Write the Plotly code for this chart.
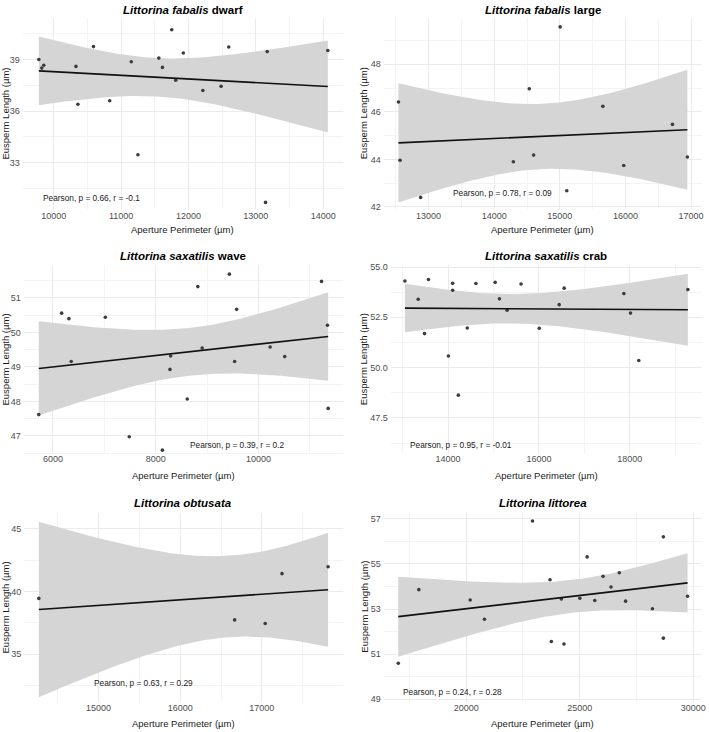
import numpy as np
import plotly.graph_objects as go

# ---------------- data ----------------
titles = [
    "<b><i>Littorina fabalis</i> dwarf</b>",
    "<b><i>Littorina fabalis</i> large</b>",
    "<b><i>Littorina saxatilis</i> wave</b>",
    "<b><i>Littorina saxatilis</i> crab</b>",
    "<b><i>Littorina obtusata</i></b>",
    "<b><i>Littorina littorea</i></b>",
]
pearson_labels = [
    "Pearson, p = 0.66, r = -0.1",
    "Pearson, p = 0.78, r = 0.09",
    "Pearson, p = 0.39, r = 0.2",
    "Pearson, p = 0.95, r = -0.01",
    "Pearson, p = 0.63, r = 0.29",
    "Pearson, p = 0.24, r = 0.28",
]

fd_perim = [9779, 9823, 9852, 10330, 10359, 10590, 10831, 11151, 11250, 11560,
            11614, 11752, 11811, 11924, 12214, 12485, 12598, 13144, 13169, 14069]
fd_len = [39.00, 38.50, 38.67, 38.60, 36.40, 39.75, 36.60, 38.87, 33.46, 39.08,
          38.54, 40.73, 37.80, 39.38, 37.20, 37.44, 39.73, 30.69, 39.46, 39.52]

fl_perim = [12541, 12565, 12879, 14292, 14535, 14601, 15005, 15106, 15656, 15974,
            16717, 16944]
fl_len = [46.41, 43.96, 42.40, 43.90, 46.97, 44.18, 49.57, 42.68, 46.23, 43.74,
          45.47, 44.10]

sw_perim = [5723, 6168, 6310, 6355, 7019, 7484, 8129, 8290, 8277, 8613,
            8819, 8903, 9432, 9535, 9574, 10226, 10510, 11226, 11342, 11355]
sw_len = [47.62, 50.56, 50.40, 49.16, 50.44, 46.98, 46.59, 49.32, 48.93, 48.07,
          51.33, 49.55, 51.69, 49.16, 50.67, 49.58, 49.30, 51.48, 50.21, 47.80]

sc_perim = [13051, 13343, 13482, 13569, 14007, 14102, 14102, 14226, 14423, 14613,
            15036, 15131, 15299, 15606, 16007, 16445, 16555, 17869, 18015, 18197,
            19277]
sc_len = [54.31, 53.40, 51.69, 54.38, 50.58, 54.19, 53.85, 48.63, 51.97, 54.18,
          54.24, 53.42, 52.85, 54.16, 51.96, 53.13, 53.95, 53.68, 52.71, 50.35,
          53.88]

ob_perim = [14270, 16667, 17041, 17247, 17811]
ob_len = [39.45, 37.74, 37.45, 41.42, 41.97]

li_perim = [17007, 17912, 20175, 20803, 22920, 23693, 23752, 24190, 24307, 25007,
            25328, 25664, 26029, 26380, 26745, 27022, 28204, 28686, 28686, 29752]
li_len = [50.60, 53.86, 53.40, 52.55, 56.90, 54.30, 51.56, 53.45, 51.45, 53.48,
          55.31, 53.38, 54.45, 53.98, 54.61, 53.35, 53.01, 56.20, 51.71, 53.57]

datasets = [(fd_perim, fd_len), (fl_perim, fl_len), (sw_perim, sw_len),
            (sc_perim, sc_len), (ob_perim, ob_len), (li_perim, li_len)]

# 97.5% Student t quantiles by degrees of freedom (for 95% CI of lm fit)
T975 = {3: 3.182446, 10: 2.228139, 18: 2.100922, 19: 2.093024}

# ---------------- layout (pixels in the 709x732 page) ----------------
W, H = 709, 732
panels = [
    dict(px=(23, 345), py=(15, 208), xr=(9542, 14295), yr=(30.29, 41.42), dx=1000, dy=3, y0=0, fmt="",
         lab=(9818, 30.94), ty=7, xty=228, ytx=6, so=0),
    dict(px=(386, 706), py=(15, 208), xr=(12318, 17167), yr=(41.90, 49.95), dx=1000, dy=2, y0=0, fmt="",
         lab=(13348, 42.59), ty=7, xty=228, ytx=365.7, so=0),
    dict(px=(24, 345), py=(264, 455), xr=(5433, 11645), yr=(46.47, 51.96), dx=2000, dy=1, y0=0, fmt="",
         lab=(8632, 46.74), ty=255, xty=476, ytx=6, so=-2),
    dict(px=(393, 706), py=(264, 455), xr=(12740, 19588), yr=(45.69, 55.11), dx=2000, dy=2.5, y0=0, fmt=".1f",
         lab=(13109, 46.15), ty=255, xty=476, ytx=365.7, so=-2),
    dict(px=(24.5, 344.5), py=(514, 705), xr=(14093, 17988), yr=(31.19, 46.26), dx=1000, dy=5, y0=0, fmt="",
         lab=(14923, 32.71), ty=504, xty=726, ytx=6, so=-1),
    dict(px=(386, 706), py=(513, 705), xr=(16370, 30389), yr=(48.87, 57.31), dx=5000, dy=2, y0=1, fmt="",
         lab=(17122, 49.32), ty=504, xty=726, ytx=365.7, so=-1),
]

FONT = "Liberation Sans, Arial, sans-serif"
GRID = "#EBEBEB"
TICKC = "#4D4D4D"

fig = go.Figure()
annotations = []
layout = {}

for i, ((xs, ys), p) in enumerate(zip(datasets, panels)):
    k = "" if i == 0 else str(i + 1)
    xa, ya = "x" + k, "y" + k
    x = np.asarray(xs, float)
    y = np.asarray(ys, float)
    n = len(x)
    # linear model fit + 95% confidence band (as geom_smooth(method="lm"))
    b1, b0 = np.polyfit(x, y, 1)
    xg = np.linspace(x.min(), x.max(), 80)
    yhat = b0 + b1 * xg
    resid = y - (b0 + b1 * x)
    s = np.sqrt(np.sum(resid ** 2) / (n - 2))
    sxx = np.sum((x - x.mean()) ** 2)
    se = s * np.sqrt(1.0 / n + (xg - x.mean()) ** 2 / sxx)
    t = T975[n - 2]
    lo, hi = yhat - t * se, yhat + t * se

    fig.add_trace(go.Scatter(x=np.concatenate([xg, xg[::-1]]), y=np.concatenate([hi, lo[::-1]]),
                             fill="toself", fillcolor="#D5D5D5", line=dict(width=0),
                             mode="lines", hoverinfo="skip", showlegend=False, xaxis=xa, yaxis=ya))
    fig.add_trace(go.Scatter(x=x, y=y, mode="markers",
                             marker=dict(size=3.6, color="#3C3C3C"),
                             showlegend=False, xaxis=xa, yaxis=ya))
    fig.add_trace(go.Scatter(x=xg, y=yhat, mode="lines", line=dict(color="#111111", width=1.6),
                             showlegend=False, xaxis=xa, yaxis=ya))

    common = dict(showline=False, zeroline=False, ticks="", showgrid=True, gridcolor=GRID,
                  gridwidth=1, tickfont=dict(family=FONT, size=9, color=TICKC))
    layout["xaxis" + k] = dict(common, domain=[p["px"][0] / W, p["px"][1] / W], range=list(p["xr"]),
                               anchor=ya, tick0=0, dtick=p["dx"], tickformat="d",
                               ticklabelstandoff=p["so"],
                               minor=dict(showgrid=True, gridcolor="#F3F3F3", gridwidth=0.6,
                                          tick0=0, dtick=p["dx"] / 2))
    layout["yaxis" + k] = dict(common, domain=[1 - p["py"][1] / H, 1 - p["py"][0] / H],
                               range=list(p["yr"]), anchor=xa, tick0=p["y0"], dtick=p["dy"],
                               tickformat=p["fmt"], ticklabelstandoff=2,
                               minor=dict(showgrid=True, gridcolor="#F3F3F3", gridwidth=0.6,
                                          tick0=p["y0"], dtick=p["dy"] / 2))
    cx = (p["px"][0] + p["px"][1]) / 2 / W
    annotations.append(dict(text=titles[i], x=cx, y=1 - p["ty"] / H, xref="paper", yref="paper",
                            xanchor="center", yanchor="middle", showarrow=False,
                            font=dict(family=FONT, size=11.5, color="#000000")))
    annotations.append(dict(text="Aperture Perimeter (µm)", x=cx, y=1 - p["xty"] / H,
                            xref="paper", yref="paper", xanchor="center", yanchor="middle",
                            showarrow=False, font=dict(family=FONT, size=9.5, color="#1A1A1A")))
    cy = 1 - (p["py"][0] + p["py"][1]) / 2 / H
    annotations.append(dict(text="Eusperm Length (µm)", x=p["ytx"] / W, y=cy, textangle=-90,
                            xref="paper", yref="paper", xanchor="center", yanchor="middle",
                            showarrow=False, font=dict(family=FONT, size=9.5, color="#1A1A1A")))
    annotations.append(dict(text=pearson_labels[i], x=p["lab"][0], y=p["lab"][1], xref=xa, yref=ya,
                            xanchor="left", yanchor="middle", showarrow=False,
                            font=dict(family=FONT, size=8.3, color="#1A1A1A")))

fig.update_layout(width=W, height=H, margin=dict(l=0, r=0, t=0, b=0, pad=0),
                  paper_bgcolor="white", plot_bgcolor="white", showlegend=False,
                  annotations=annotations, **layout)

fig.write_html("out.html")
